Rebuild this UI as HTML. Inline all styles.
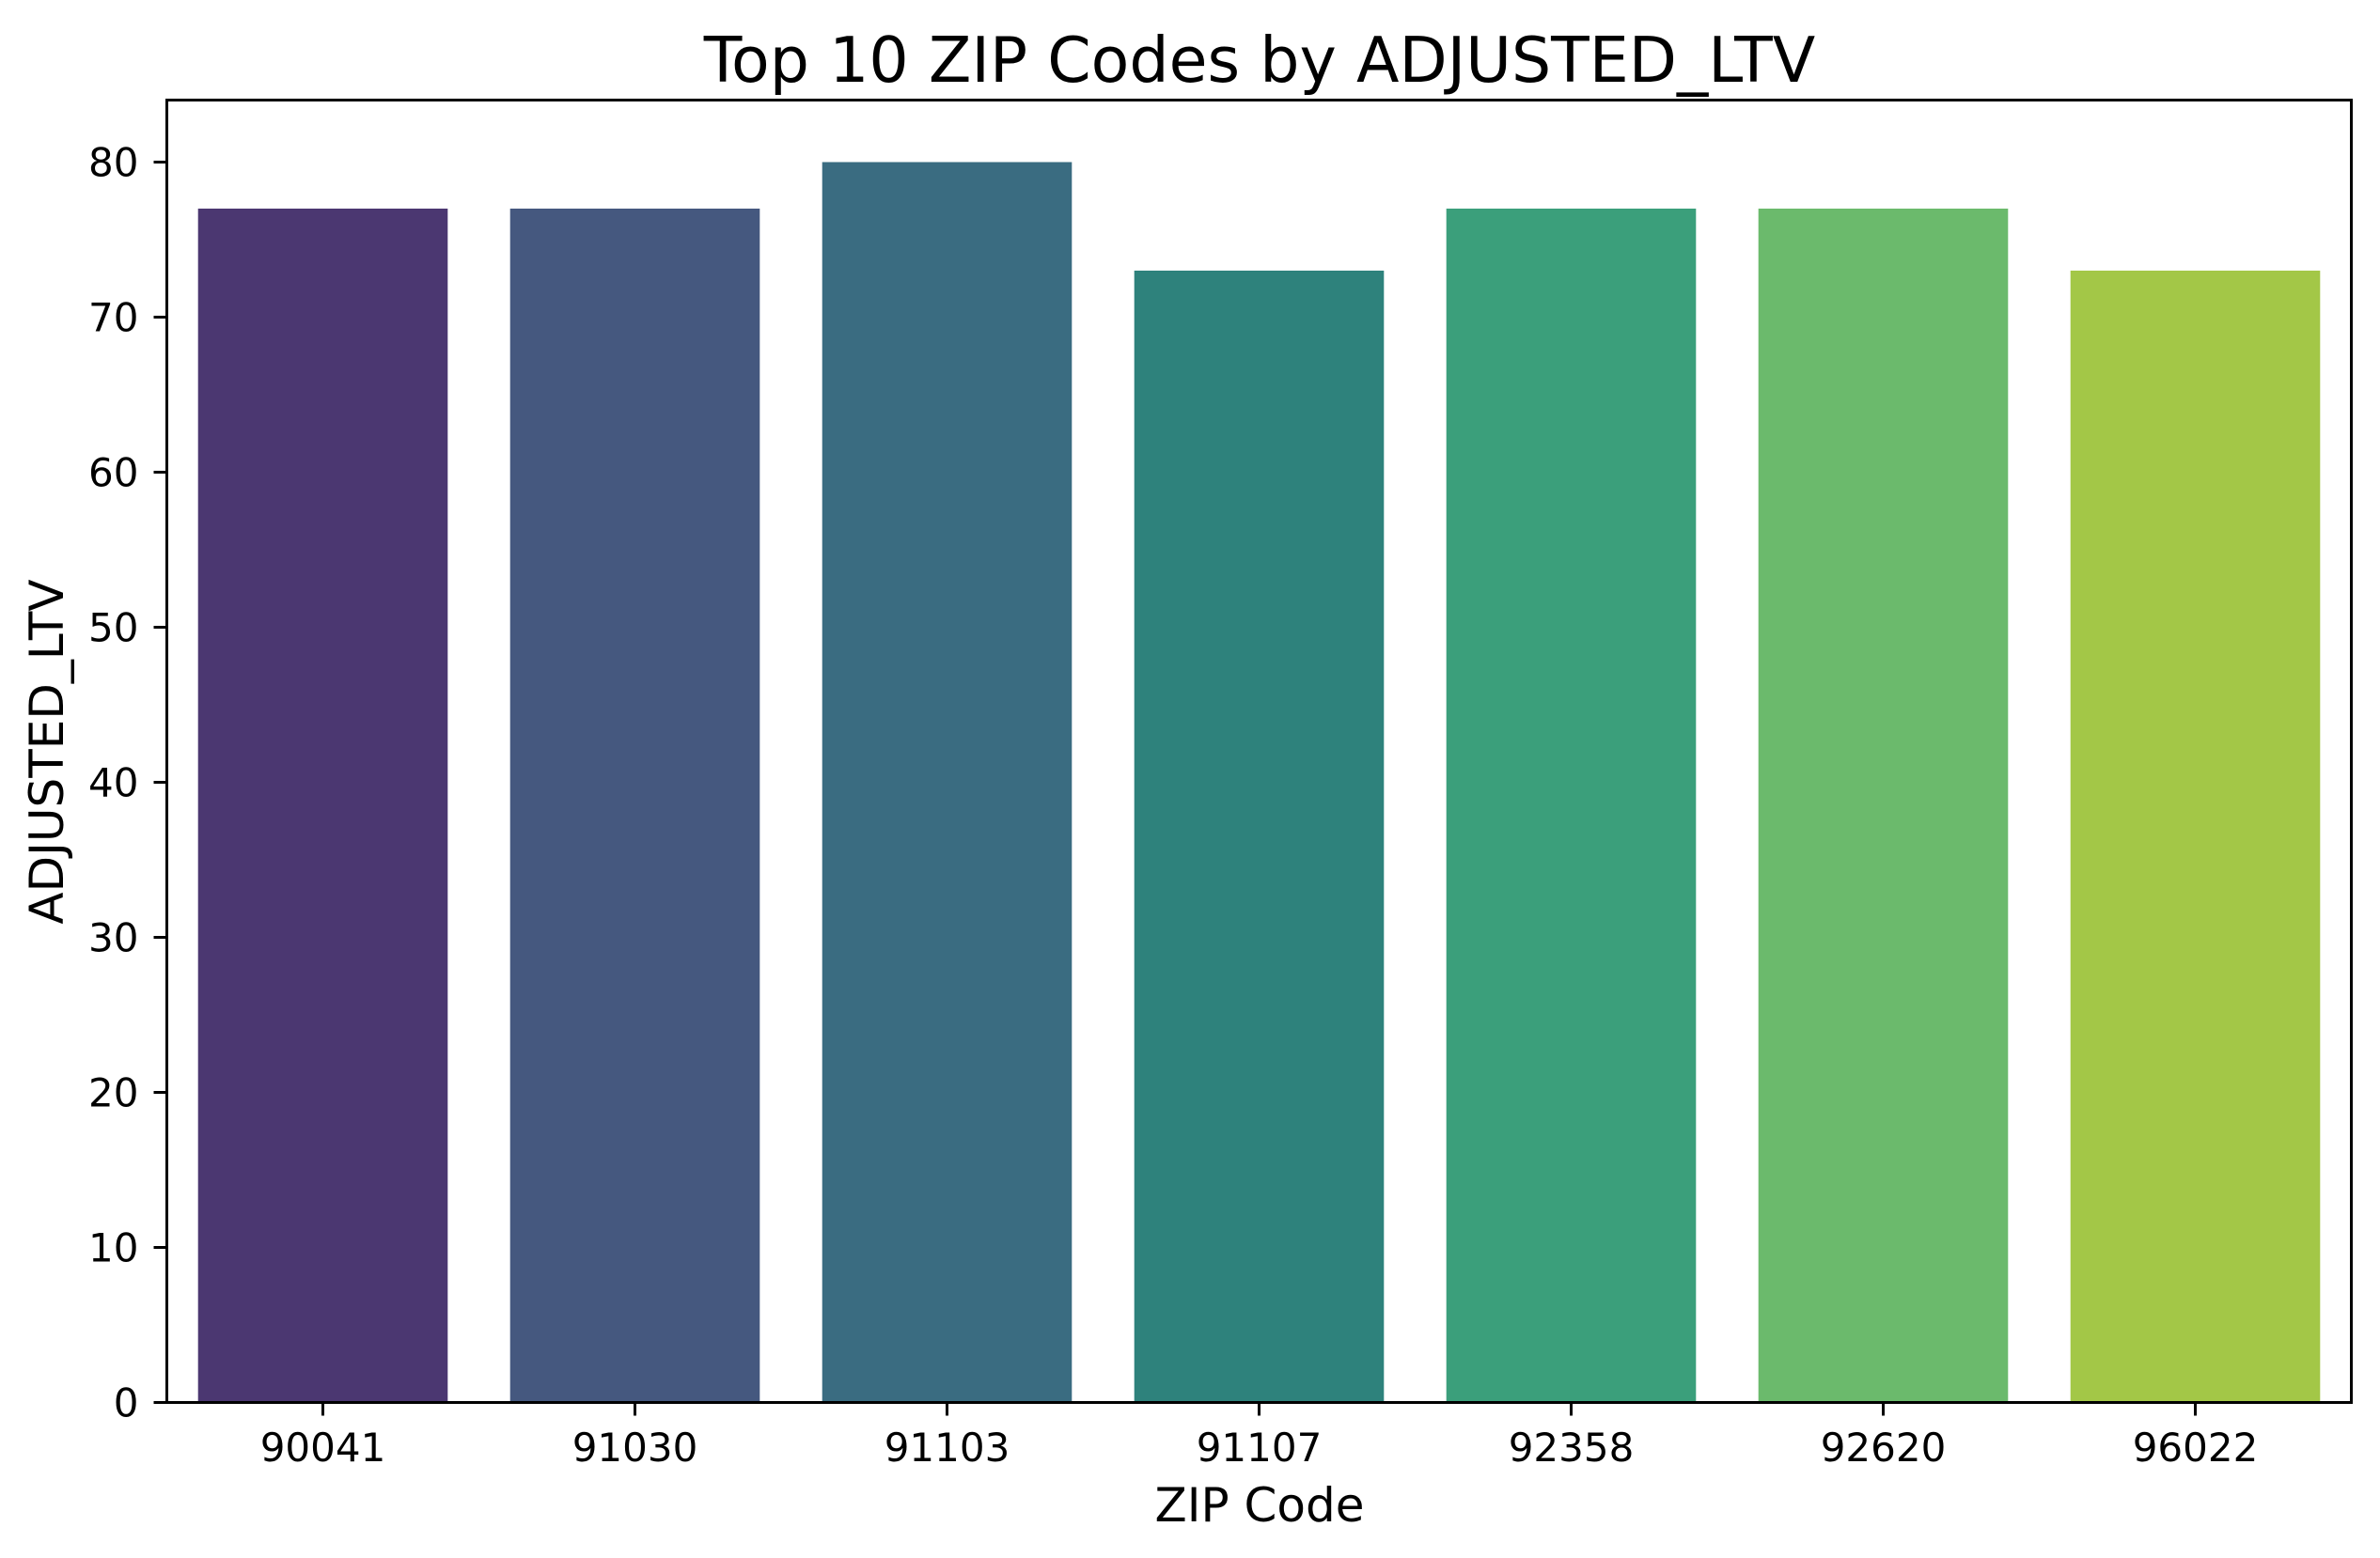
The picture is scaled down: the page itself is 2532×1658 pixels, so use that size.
<!DOCTYPE html>
<html><head><meta charset="utf-8"><style>
html,body{margin:0;padding:0;background:#fff;}
svg{display:block;font-family:"DejaVu Sans","Liberation Sans",sans-serif;}
</style></head><body>
<svg id="chart" width="2532" height="1658" xmlns="http://www.w3.org/2000/svg">
<rect width="2532" height="1658" fill="#fff"/>
<text x="1340" y="87" font-size="66.5" text-anchor="middle" fill="#000">Top 10 ZIP Codes by ADJUSTED_LTV</text>
<g id="bars"></g>
<g id="yticks"></g>
<g id="xticks"></g>
<rect x="177.5" y="106.5" width="2324" height="1386" fill="none" stroke="#000" stroke-width="3"/>
<text x="1340" y="1619" font-size="50" text-anchor="middle" fill="#000">ZIP Code</text>
<text transform="translate(67,800) rotate(-90)" font-size="50" text-anchor="middle" fill="#000">ADJUSTED_LTV</text>
</svg>
<script>
const categories = ["90041","91030","91103","91107","92358","92620","96022"];
const values = [77,77,80,73,77,77,73];
const colors = ["#4b3771","#45587f","#3a6c81","#2e827c","#3b9f7b","#6bba6c","#a3c747"];
const yTicks = [0,10,20,30,40,50,60,70,80];

const L=177.5,R=2501.5,T=106.5,B=1492.5,YMAX=84;
const NS="http://www.w3.org/2000/svg";
function yScale(v){return B-(v/YMAX)*(B-T);}
function xScale(i){const w=(R-L)/categories.length;return L+w*(i+0.5);}
const bw=(R-L)/categories.length*0.8;
const bars=document.getElementById('bars');
const yt=document.getElementById('yticks');
const xt=document.getElementById('xticks');
values.forEach((v,i)=>{
  const r=document.createElementNS(NS,'rect');
  r.setAttribute('x',xScale(i)-bw/2);
  r.setAttribute('y',yScale(v));
  r.setAttribute('width',bw);
  r.setAttribute('height',yScale(0)-yScale(v));
  r.setAttribute('fill',colors[i%colors.length]);
  
  
  bars.appendChild(r);
});
yTicks.forEach(t=>{
  const y=yScale(t);
  const l=document.createElementNS(NS,'line');
  l.setAttribute('x1',L-14);l.setAttribute('x2',L);l.setAttribute('y1',y);l.setAttribute('y2',y);
  l.setAttribute('stroke','#000');l.setAttribute('stroke-width','3');
  
  
  yt.appendChild(l);
  const tx=document.createElementNS(NS,'text');
  tx.setAttribute('x',L-30);tx.setAttribute('y',y+15);
  tx.setAttribute('font-size','42');tx.setAttribute('text-anchor','end');
  tx.textContent=t;
  
  
  yt.appendChild(tx);
});
categories.forEach((c,i)=>{
  const x=xScale(i);
  const l=document.createElementNS(NS,'line');
  l.setAttribute('x1',x);l.setAttribute('x2',x);l.setAttribute('y1',B);l.setAttribute('y2',B+14);
  l.setAttribute('stroke','#000');l.setAttribute('stroke-width','3');
  
  
  xt.appendChild(l);
  const tx=document.createElementNS(NS,'text');
  tx.setAttribute('x',x);tx.setAttribute('y',1555);
  tx.setAttribute('font-size','42');tx.setAttribute('text-anchor','middle');
  tx.textContent=c;
  
  
  xt.appendChild(tx);
});
</script>
</body></html>
